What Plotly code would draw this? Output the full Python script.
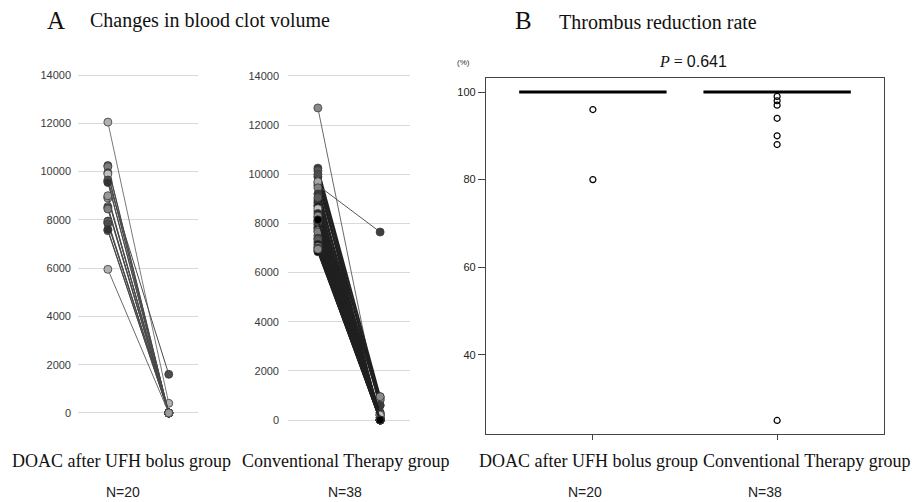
import plotly.graph_objects as go

# ---------------- Data ----------------
# Panel A-1: DOAC after UFH bolus group (N=20), clot volume before / after
doac_pre = [12050, 10250, 10200, 9950, 9900, 9650, 9600, 9550, 8950, 8900,
            8550, 8500, 8450, 7950, 7900, 7850, 7550, 7600, 5950, 9000]
doac_post = [400, 0, 0, 0, 0, 1600, 0, 0, 0, 0,
             0, 0, 0, 0, 0, 0, 0, 0, 0, 0]

# Panel A-2: Conventional therapy group (N=38)
conv_pre = [12700, 10250, 10150, 9900, 9650, 9550, 8950, 8850, 8750, 8500,
            8250, 7950, 7850, 7800, 7500, 7250, 6900, 6850, 10000, 9700,
            9450, 9200, 9050, 8700, 8600, 8400, 8300, 8100, 8050, 7700,
            7650, 7400, 7350, 7150, 7050, 7000, 6950, 8150]
conv_post = [250, 950, 600, 0, 800, 7650, 200, 0, 900, 0,
             100, 0, 300, 0, 200, 0, 0, 100, 0, 850,
             0, 600, 0, 200, 0, 0, 950, 0, 100, 0,
             0, 300, 0, 0, 200, 0, 0, 0]

# Panel B: thrombus reduction rate (%)
doac_rate = [100] * 18 + [96, 80]
conv_rate = [100] * 31 + [99, 98, 97, 94, 90, 88, 25]

group_labels = ["DOAC after UFH bolus group", "Conventional Therapy group"]
n_labels = ["N=20", "N=38"]
a_ticks = [0, 2000, 4000, 6000, 8000, 10000, 12000, 14000]
a_ticktext = [str(v) for v in a_ticks]
b_ticks = [40, 60, 80, 100]

grays_a1 = ["#a6a6a6", "#595959", "#7f7f7f", "#404040", "#bfbfbf",
            "#4d4d4d", "#8c8c8c", "#333333", "#6e6e6e", "#9a9a9a"]
grays_a2 = ["#7f7f7f", "#3a3a3a", "#595959", "#1a1a1a", "#bfbfbf",
            "#262626", "#8c8c8c", "#000000", "#4d4d4d", "#a6a6a6"]

W, H = 921, 502

fig = go.Figure()


def add_pairs(pre, post, xa, ya, lw, pal, lc=None):
    for i, (a, b) in enumerate(zip(pre, post)):
        c = pal[i % len(pal)]
        fig.add_trace(go.Scatter(
            x=[0, 1], y=[a, b], mode="lines+markers",
            xaxis=xa, yaxis=ya, cliponaxis=False, showlegend=False,
            line=dict(color=lc or c, width=lw),
            marker=dict(size=8, color=c, line=dict(color="#3a3a3a", width=0.8)),
            hoverinfo="skip"))


add_pairs(doac_pre, doac_post, "x", "y", 1.0, grays_a1, "#4a4a4a")
fig.data[0].line.color = "#7a7a7a"
fig.data[0].marker.color = "#b0b0b0"
fig.data[18].line.color = "#6a6a6a"
fig.data[18].marker.color = "#b0b0b0"
add_pairs(conv_pre, conv_post, "x2", "y2", 1.8, grays_a2, "#202020")
fig.data[20].line.color = "#6a6a6a"
fig.data[20].line.width = 1.0
fig.data[20].marker.color = "#8a8a8a"
fig.data[25].line.color = "#555555"
fig.data[25].line.width = 1.0
fig.data[25].marker.color = "#404040"

# B: box plots
for i, vals in enumerate([doac_rate, conv_rate]):
    fig.add_trace(go.Box(
        y=vals, x=[i] * len(vals), xaxis="x3", yaxis="y3",
        width=0.8, boxpoints="outliers", jitter=0, pointpos=0,
        whiskerwidth=0, fillcolor="rgba(0,0,0,0)",
        line=dict(color="black", width=3),
        marker=dict(symbol="circle-open", size=6, color="black",
                    line=dict(width=1.2)),
        showlegend=False, hoverinfo="skip"))


def py(px):
    return 1 - px / H


def pxx(px):
    return px / W


grid_axis = dict(showgrid=True, gridcolor="#d9d9d9", gridwidth=1.3,
                 zeroline=False, showline=False, ticks="",
                 tickvals=a_ticks, ticktext=a_ticktext, range=[-300, 14300],
                 tickfont=dict(family="Liberation Sans", size=11, color="#3a3a3a"))

fig.update_layout(
    width=W, height=H, margin=dict(l=0, r=0, t=0, b=0),
    paper_bgcolor="white", plot_bgcolor="white",
    xaxis=dict(domain=[pxx(78), pxx(198)], range=[-0.49, 1.48], visible=False),
    yaxis=dict(domain=[py(420.2), py(67.8)], anchor="x", ticklabelstandoff=6, **grid_axis),
    xaxis2=dict(domain=[pxx(288), pxx(410)], range=[-0.48, 1.48], visible=False, anchor="y2"),
    yaxis2=dict(domain=[py(427.4), py(68.6)], anchor="x2", ticklabelstandoff=8, **grid_axis),
    xaxis3=dict(domain=[pxx(486), pxx(884)], range=[-0.58, 1.58], anchor="y3",
                showline=True, mirror=True, linecolor="#444444", linewidth=1.3,
                ticks="outside", ticklen=5, tickcolor="#444444", tickvals=[0, 1],
                showticklabels=False, showgrid=False, zeroline=False),
    yaxis3=dict(domain=[py(434), py(78)], range=[21.9, 103.2], anchor="x3",
                showline=True, mirror=True, linecolor="#444444", linewidth=1.3,
                ticks="outside", ticklen=7, tickcolor="#444444", tickvals=b_ticks,
                showgrid=False, zeroline=False,
                tickfont=dict(family="Liberation Sans", size=11, color="#222222")),
)

serif = "Liberation Serif"
ann = []


def A(x, y, text, size, family=serif, color="#111111", xanchor="center"):
    ann.append(dict(x=x / W, y=py(y), xref="paper", yref="paper", text=text,
                    showarrow=False, xanchor=xanchor, yanchor="middle",
                    font=dict(family=family, size=size, color=color)))


A(45, 21, "A", 25, xanchor="left")
A(88, 21, "Changes in blood clot volume", 20, xanchor="left")
A(513, 21, "B", 25, xanchor="left")
A(557, 22, "Thrombus reduction rate", 20, xanchor="left")
A(693, 61, "<i>P</i> = <span style='font-family:Liberation Sans'>0.641</span>", 16, color="#111111")
A(463, 62, "(%)", 8, family="Liberation Sans", color="#333333")

label_x = [(121, 346), (588, 807)]
n_x = [(123, 345), (585, 765)]
for (lx1, lx2), (nx1, nx2) in zip(label_x, n_x):
    A(lx1, 461, group_labels[0], 18)
    A(lx2, 461, group_labels[1], 18)
    A(nx1, 492, n_labels[0], 14, family="Liberation Sans", color="#222222")
    A(nx2, 492, n_labels[1], 14, family="Liberation Sans", color="#222222")

fig.update_layout(annotations=ann)
fig.write_html("out.html", config={"displayModeBar": False},
               post_script="document.body.style.margin='0';")
